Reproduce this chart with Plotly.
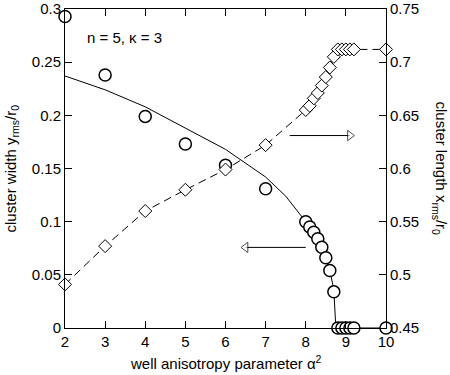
import plotly.graph_objects as go

# cluster width (left axis), open circles
alpha2_w = [2, 3, 4, 5, 6, 7, 8, 8.1, 8.2, 8.3, 8.4, 8.5, 8.6, 8.7, 8.8, 8.9, 9, 9.1, 9.2, 10]
width_sim = [0.293, 0.238, 0.199, 0.173, 0.153, 0.131, 0.100, 0.095, 0.090, 0.084,
             0.076, 0.066, 0.054, 0.034, 0, 0, 0, 0, 0, 0]

# theory curve for the width (solid line)
alpha2_th = [2, 3, 4, 5, 6, 7, 7.5, 8, 8.2, 8.4, 8.5, 8.6, 8.7, 8.75, 9, 10]
width_th = [0.237, 0.224, 0.208, 0.188, 0.168, 0.142, 0.124, 0.100, 0.090, 0.076,
            0.066, 0.054, 0.036, 0, 0, 0]

# cluster length (right axis), open diamonds
alpha2_l = [2, 3, 4, 5, 6, 7, 8, 8.1, 8.2, 8.3, 8.4, 8.5, 8.6, 8.7, 8.8, 8.9, 9, 9.1, 9.2, 10]
length_sim = [0.491, 0.527, 0.560, 0.580, 0.599, 0.622, 0.655, 0.659, 0.666, 0.671,
              0.678, 0.686, 0.695, 0.705, 0.712, 0.712, 0.712, 0.712, 0.712, 0.712]

font = dict(family="Liberation Sans, Arial, sans-serif", size=15, color="black")

fig = go.Figure()

fig.add_trace(go.Scatter(
    x=alpha2_th, y=width_th, mode="lines",
    line=dict(color="black", width=1), cliponaxis=False, showlegend=False,
))
fig.add_trace(go.Scatter(
    x=alpha2_l, y=length_sim, mode="lines+markers", yaxis="y2",
    line=dict(color="black", width=1, dash="8px,5px"),
    marker=dict(symbol="diamond", size=10, color="white",
                line=dict(color="black", width=1)),
    cliponaxis=False, showlegend=False,
))
fig.add_trace(go.Scatter(
    x=alpha2_w, y=width_sim, mode="markers",
    marker=dict(symbol="circle", size=12, color="white",
                line=dict(color="black", width=1.5)),
    cliponaxis=False, showlegend=False,
))

# arrows pointing to the relevant axis
fig.add_trace(go.Scatter(
    x=[7.6, 9.1], y=[0.181, 0.181], mode="lines+markers",
    line=dict(color="black", width=1),
    marker=dict(symbol="triangle-right", size=[0, 9], color="white",
                line=dict(color="black", width=1)),
    showlegend=False, hoverinfo="skip",
))
fig.add_trace(go.Scatter(
    x=[8.0, 6.5], y=[0.0758, 0.0758], mode="lines+markers",
    line=dict(color="black", width=1),
    marker=dict(symbol="triangle-left", size=[0, 9], color="white",
                line=dict(color="black", width=1)),
    showlegend=False, hoverinfo="skip",
))

axis_common = dict(showline=True, linecolor="black", linewidth=1, ticks="inside",
                   ticklen=7, tickcolor="black", showgrid=False, zeroline=False,
                   tickfont=font, automargin=False)

fig.update_layout(
    width=450, height=375,
    margin=dict(l=65, r=64, t=9, b=47),
    paper_bgcolor="white", plot_bgcolor="white",
    font=font,
    xaxis=dict(range=[2, 10], dtick=1, mirror="ticks", **axis_common),
    yaxis=dict(range=[0, 0.3], dtick=0.05, tickformat="~g", **axis_common),
    yaxis2=dict(range=[0.45, 0.75], dtick=0.05, tickformat="~g", overlaying="y",
                side="right", **axis_common),
    annotations=[
        dict(text="n = 5, \u03ba = 3", x=0, y=1, xref="paper", yref="paper",
             xshift=20, yshift=-28, xanchor="left", yanchor="middle",
             showarrow=False, font=font),
        dict(text="well anisotropy parameter \u03b1<sup>2</sup>", x=0.5, y=0,
             xref="paper", yref="paper", yshift=-34, xanchor="center",
             yanchor="middle", showarrow=False, font=font),
        dict(text="cluster width y<sub>rms</sub>/r<sub>0</sub>", x=0, y=0.5,
             xref="paper", yref="paper", xshift=-54, textangle=-90,
             xanchor="center", yanchor="middle", showarrow=False, font=font),
        dict(text="cluster length x<sub>rms</sub>/r<sub>0</sub>", x=1, y=0.5,
             xref="paper", yref="paper", xshift=54, textangle=90,
             xanchor="center", yanchor="middle", showarrow=False, font=font),
    ],
)

# page body has a default 8px margin; drop it so the figure fills the window
fig.write_html("out.html", config={"displayModeBar": False},
               post_script="document.body.style.margin='0';")
